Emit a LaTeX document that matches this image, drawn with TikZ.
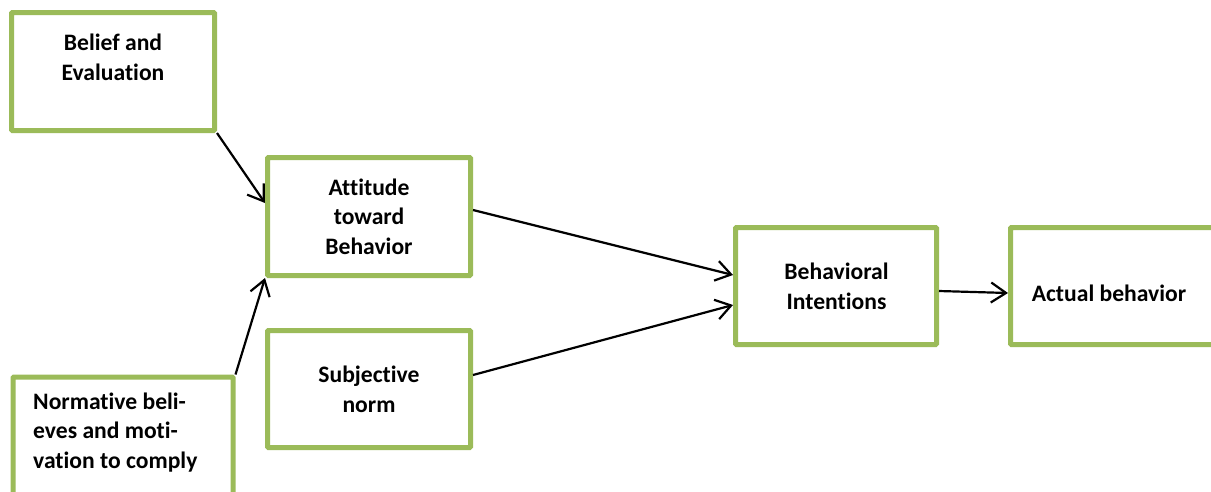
\documentclass[tikz,border=0pt]{standalone}
\usepackage{fontspec}
\setmainfont{Carlito}[Ligatures=NoCommon]
\usetikzlibrary{arrows.meta}
\definecolor{boxgreen}{HTML}{9BBB59}
\tikzset{
  box/.style={draw=boxgreen, line width=5pt, fill=white, rounded corners=1pt,
    inner sep=0pt},
  lbl/.style={font=\bfseries\fontsize{23.6}{29.3}\selectfont, align=center,
    inner sep=0pt, anchor=base},
  conn/.style={line width=2.2pt, -{Straight Barb[length=15pt,width=20pt,line width=2.2pt]}}
}
\begin{document}
\begin{tikzpicture}[x=1pt, y=-1pt]
  \useasboundingbox (0,0) rectangle (1211,491);
  % boxes (sizes measured on the stroke centre line)
  \node[box, minimum width=203pt, minimum height=118pt] (be) at (113,71.5) {};
  \node[box, minimum width=203pt, minimum height=118pt] (att) at (369,216.5) {};
  \node[box, minimum width=220pt, minimum height=119pt, anchor=north west] (nb) at (10.5,374.5) {};
  \node[box, minimum width=203pt, minimum height=117pt] (sn) at (369,389) {};
  \node[box, minimum width=201pt, minimum height=117pt] (bi) at (836,286) {};
  \node[box, minimum width=203pt, minimum height=117pt] (ab) at (1112,286) {};
  % labels, placed by the baseline of their last line
  \node[lbl] (tbe) at (113,80) {Belief and\\Evaluation};
  \node[lbl] (tatt) at (369,254) {Attitude\\toward\\Behavior};
  \node[lbl, align=left, anchor=base west] (tnb) at (33,468) {Normative beli-\\eves and moti-\\vation to comply};
  \node[lbl] (tsn) at (369,412) {Subjective\\norm};
  \node[lbl] (tbi) at (836.5,309) {Behavioral\\Intentions};
  \node[lbl] (tab) at (1109,301.7) {Actual behavior};
  % connectors
  \draw[conn] (be.south east) -- ([yshift=13.5pt]att.west);
  \draw[conn] (nb.north east) -- (att.south west);
  \draw[conn] ([yshift=6.5pt]att.east) -- ([yshift=11pt]bi.west);
  \draw[conn] ([yshift=14pt]sn.east) -- ([yshift=-19pt]bi.west);
  \draw[conn] ([yshift=-5pt]bi.east) -- ([yshift=-7pt]ab.west);
\end{tikzpicture}
\end{document}
